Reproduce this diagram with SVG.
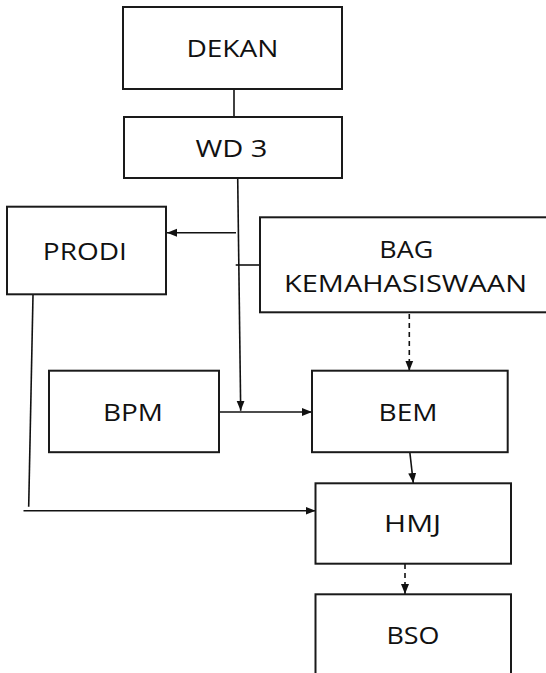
<svg xmlns="http://www.w3.org/2000/svg" width="546" height="673" viewBox="0 0 546 673">
<style>
.box{fill:#fff;stroke:#1a1a1a;stroke-width:2}
.lbl{font-family:"Open Sans","Noto Sans",sans-serif;font-size:23px;fill:#111;text-anchor:middle}
.ln{fill:none;stroke:#111;stroke-width:1.6}
.dash{stroke-dasharray:5 4}
</style>
<defs>
<marker id="ah" markerUnits="userSpaceOnUse" markerWidth="10" markerHeight="10" viewBox="0 0 10 10" refX="10" refY="5" orient="auto">
<path d="M0,1 L10,5 L0,9 Z" fill="#111"/>
</marker>
</defs>
<rect width="546" height="673" fill="#fff"/>
<g id="connectors">
<line class="ln" x1="234" y1="89" x2="234" y2="117"/>
<line class="ln" x1="237.7" y1="178" x2="240.7" y2="410.7" marker-end="url(#ah)"/>
<line class="ln" x1="236" y1="232.7" x2="167" y2="232.7" marker-end="url(#ah)"/>
<line class="ln" x1="235.7" y1="265" x2="260" y2="265"/>
<line class="ln dash" x1="409.3" y1="305" x2="409.3" y2="370.7" marker-end="url(#ah)"/>
<line class="ln" x1="219" y1="412" x2="312" y2="412" marker-end="url(#ah)"/>
<line class="ln" x1="409.8" y1="452" x2="413.3" y2="483" marker-end="url(#ah)"/>
<line class="ln dash" x1="405" y1="564" x2="405" y2="594" marker-end="url(#ah)"/>
<line class="ln" x1="33" y1="295" x2="28.7" y2="506.7"/>
<line class="ln" x1="23.5" y1="510.7" x2="315.5" y2="510.7" marker-end="url(#ah)"/>
</g>
<g id="dekan"><rect class="box" x="123" y="7" width="219" height="82"/><text class="lbl" x="232.4" y="56.7" textLength="92" lengthAdjust="spacingAndGlyphs">DEKAN</text></g>
<g id="wd3"><rect class="box" x="124" y="117" width="218" height="61"/><text class="lbl" x="231.4" y="156.7" textLength="72" lengthAdjust="spacingAndGlyphs">WD 3</text></g>
<g id="prodi"><rect class="box" x="7" y="206.7" width="159" height="87.6"/><text class="lbl" x="84.8" y="260" textLength="84" lengthAdjust="spacingAndGlyphs">PRODI</text></g>
<g id="bag"><rect class="box" x="260" y="217.3" width="300" height="95"/><text class="lbl" x="406.3" y="258.3" textLength="54" lengthAdjust="spacingAndGlyphs">BAG</text><text class="lbl" x="405.5" y="291.7" textLength="243" lengthAdjust="spacingAndGlyphs">KEMAHASISWAAN</text></g>
<g id="bpm"><rect class="box" x="49" y="370.7" width="170" height="81.5"/><text class="lbl" x="133" y="420.7" textLength="60" lengthAdjust="spacingAndGlyphs">BPM</text></g>
<g id="bem"><rect class="box" x="312" y="370.7" width="195.7" height="81.5"/><text class="lbl" x="408" y="420.7" textLength="59" lengthAdjust="spacingAndGlyphs">BEM</text></g>
<g id="hmj"><rect class="box" x="315.5" y="483.3" width="195.5" height="80.4"/><text class="lbl" x="412.6" y="531.7" textLength="57" lengthAdjust="spacingAndGlyphs">HMJ</text></g>
<g id="bso"><rect class="box" x="315.5" y="594.3" width="195.5" height="100"/><text class="lbl" x="413" y="644.3" textLength="53" lengthAdjust="spacingAndGlyphs">BSO</text></g>
</svg>
